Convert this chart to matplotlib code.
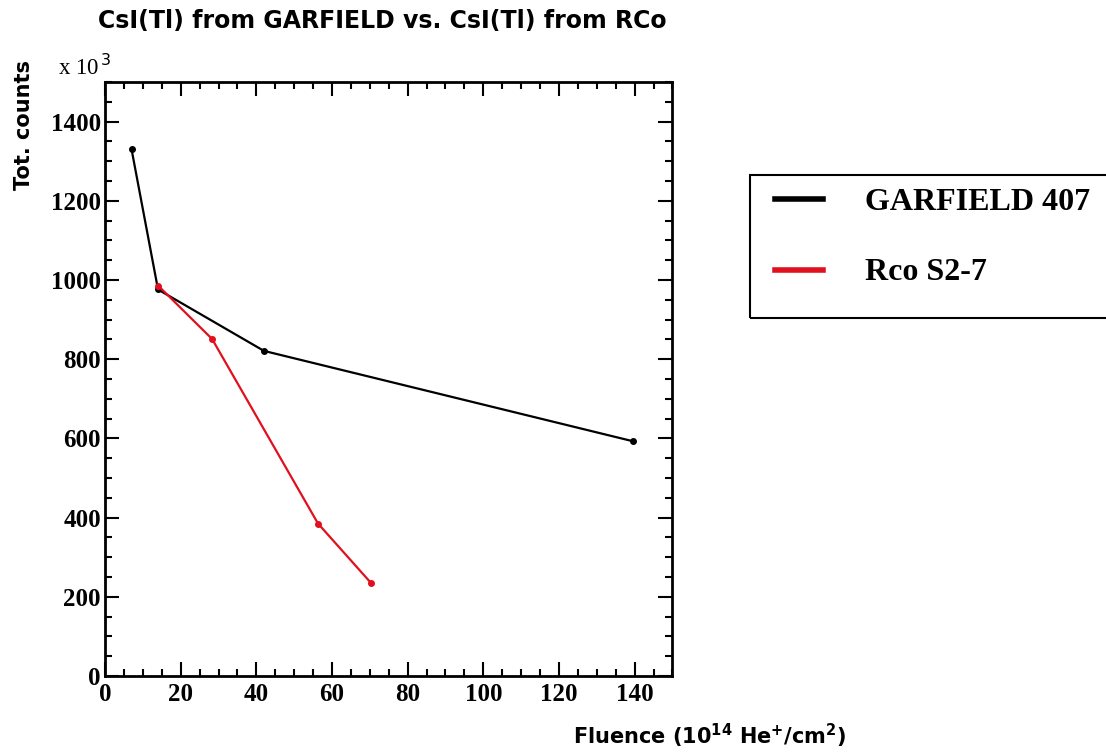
import matplotlib
matplotlib.use("Agg")
import matplotlib.pyplot as plt
from matplotlib.patches import Rectangle
from matplotlib.lines import Line2D
from matplotlib.ticker import MultipleLocator

# data (fluence in 1e14 He+/cm2, counts in 1e3)
garfield_x = [7, 14, 42, 139.5]
garfield_y = [1330, 976, 821, 593]
rco_x = [14, 28.3, 56.3, 70.4]
rco_y = [986, 851, 385, 234]
labels = ["GARFIELD 407", "Rco S2-7"]
colors = ["black", "#e0101e"]

fig = plt.figure(figsize=(11.06, 7.52), dpi=100)
ax = fig.add_axes([0.095, 0.101, 0.513, 0.790])

ax.plot(garfield_x, garfield_y, color=colors[0], lw=1.6, marker="o", ms=4)
ax.plot(rco_x, rco_y, color=colors[1], lw=1.6, marker="o", ms=4)

ax.set_xlim(0, 150)
ax.set_ylim(0, 1500)
ax.xaxis.set_major_locator(MultipleLocator(20))
ax.xaxis.set_minor_locator(MultipleLocator(5))
ax.yaxis.set_major_locator(MultipleLocator(200))
ax.yaxis.set_minor_locator(MultipleLocator(50))
ax.tick_params(which="both", direction="in", top=True, right=True, width=1.5)
ax.tick_params(which="major", length=10)
ax.tick_params(axis="x", which="major", pad=5)
ax.tick_params(axis="y", which="major", pad=3)
ax.tick_params(which="minor", length=5)
for s in ax.spines.values():
    s.set_linewidth(2)
for t in ax.get_xticklabels() + ax.get_yticklabels():
    t.set_fontfamily("Liberation Serif")
    t.set_fontweight("bold")
    t.set_fontsize(18)

fig.text(0.346, 0.972, "CsI(Tl) from GARFIELD vs. CsI(Tl) from RCo",
         ha="center", va="center", fontsize=17, fontweight="bold", family="DejaVu Sans")
fig.text(0.022, 0.92, "Tot. counts", rotation=90, ha="center", va="top",
         fontsize=15, fontweight="bold", family="DejaVu Sans")
fig.text(0.765, 0.022, r"Fluence (10$^{\mathbf{14}}$ He$^{\mathbf{+}}$/cm$^{\mathbf{2}}$)",
         ha="right", va="center", fontsize=15, fontweight="bold", family="DejaVu Sans")
fig.text(0.052, 0.91, r"x 10$^{\,3}$", ha="left", va="center", fontsize=16.5,
         family="Liberation Serif")

# legend box drawn by hand (right edge runs off the figure)
fig.add_artist(Rectangle((0.678, 0.577), 0.33, 0.190, transform=fig.transFigure,
                         fill=False, edgecolor="black", lw=1.5))
for i, (lab, c) in enumerate(zip(labels, colors)):
    yy = 0.735 - i * 0.094
    fig.add_artist(Line2D([0.701, 0.744], [yy, yy], transform=fig.transFigure,
                          color=c, lw=4))
    fig.text(0.782, yy - 0.004, lab, ha="left", va="center", fontsize=23,
             fontweight="bold", family="Liberation Serif")

fig.savefig("out.png", dpi=100)
